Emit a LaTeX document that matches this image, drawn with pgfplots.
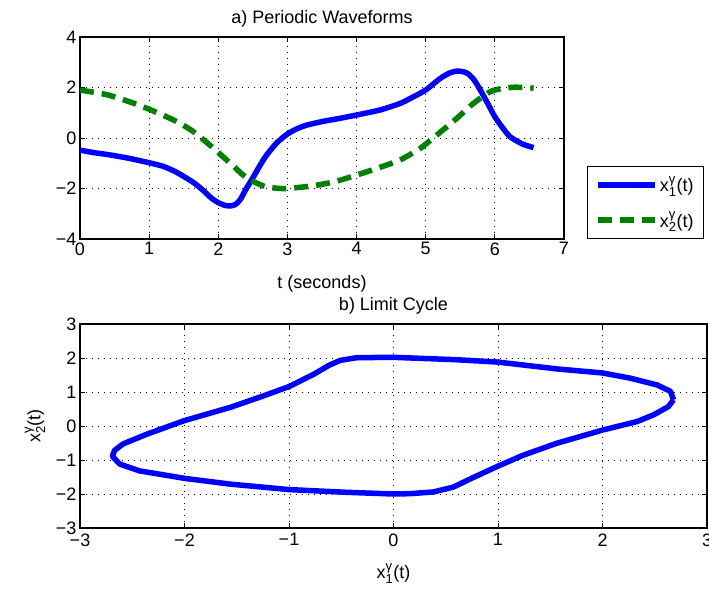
\documentclass[border=0pt]{standalone}
\usepackage{fontspec}
\setmainfont{Liberation Sans}
\usepackage{pgfplots}
\usepackage{pgfplotstable}
\pgfplotsset{compat=1.18}

\definecolor{mblue}{RGB}{0,0,255}
\definecolor{mgreen}{RGB}{0,128,0}
\newcommand{\bigfont}{\fontsize{18}{21}\selectfont}
\newcommand{\smallfont}{\fontsize{13}{15}\selectfont}
% x with gamma above and index below, as in the MATLAB labels
\newcommand{\xg}[1]{$\mbox{x}^{\mbox{\smallfont γ}}_{\mbox{\smallfont #1}}$(t)}

% x1(t), read off panel a)
\pgfplotstableread{
t x
0.00 -0.48
0.20 -0.58
0.41 -0.66
0.70 -0.80
1.00 -0.98
1.20 -1.12
1.37 -1.32
1.50 -1.52
1.66 -1.80
1.80 -2.12
1.90 -2.38
2.00 -2.56
2.10 -2.67
2.18 -2.69
2.25 -2.63
2.32 -2.43
2.40 -2.03
2.51 -1.53
2.60 -1.10
2.70 -0.67
2.85 -0.18
3.00 0.16
3.15 0.38
3.28 0.51
3.50 0.65
3.76 0.78
4.00 0.91
4.34 1.11
4.63 1.37
4.80 1.60
5.00 1.90
5.21 2.36
5.35 2.58
5.45 2.65
5.55 2.62
5.62 2.53
5.70 2.30
5.79 1.90
5.90 1.35
6.00 0.84
6.10 0.45
6.22 0.05
6.40 -0.24
6.56 -0.38
}\xonedata

% x2(t)
\pgfplotstableread{
t x
0.00 1.90
0.20 1.81
0.41 1.70
0.70 1.45
1.00 1.14
1.37 0.69
1.62 0.29
1.86 -0.24
2.15 -0.94
2.36 -1.47
2.46 -1.66
2.68 -1.93
2.85 -1.99
3.00 -2.00
3.35 -1.90
3.67 -1.74
4.00 -1.47
4.34 -1.16
4.63 -0.87
4.92 -0.41
5.18 0.16
5.45 0.78
5.69 1.37
5.93 1.83
6.10 1.96
6.27 2.01
6.45 2.00
6.56 1.97
}\xtwodata

% limit cycle, read off panel b)
\pgfplotstableread{
x y
2.68 0.77
2.65 1.02
2.52 1.21
2.26 1.41
2.00 1.56
1.56 1.68
1.00 1.88
0.60 1.95
0.00 2.02
-0.35 2.01
-0.51 1.93
-0.62 1.78
-0.77 1.51
-1.00 1.16
-1.25 0.88
-1.56 0.55
-2.00 0.16
-2.36 -0.24
-2.59 -0.53
-2.67 -0.72
-2.69 -0.89
-2.62 -1.12
-2.43 -1.32
-2.00 -1.54
-1.56 -1.71
-1.00 -1.87
-0.45 -1.95
0.00 -2.00
0.16 -1.99
0.38 -1.94
0.57 -1.80
0.76 -1.52
1.00 -1.18
1.24 -0.86
1.56 -0.51
2.00 -0.12
2.33 0.13
2.49 0.33
2.63 0.57
2.68 0.77
}\cycledata

\pgfplotsset{
  matlab/.style={
    scale only axis,
    axis line style={line width=1.2pt},
    tick align=inside, xtick pos=both, ytick pos=both,
    major tick length=5pt,
    every tick/.style={line width=1pt, black},
    grid=major,
    grid style={line width=1pt, black, dash pattern=on 1pt off 5pt},
    tick label style={font=\bigfont},
    label style={font=\bigfont},
    title style={font=\bigfont},
  }
}

\begin{document}
\begin{tikzpicture}
\begin{axis}[matlab,
  at={(80pt,351pt)}, anchor=south west,
  width=484pt, height=202pt,
  xmin=0, xmax=7, ymin=-4, ymax=4,
  xtick={0,1,2,3,4,5,6,7},
  xticklabels={0,1,2,3,4,5,6,7},
  ytick={-4,-2,0,2,4},
  yticklabels={−4,−2,0,2,4},
  title={a) Periodic Waveforms},
  xlabel={t (seconds)},
  xlabel style={yshift=-13pt},
  legend style={at={(1.0475,0)}, anchor=south west, draw=black,
    line width=1pt, font=\bigfont, inner xsep=8pt, inner ysep=8pt,
    row sep=14pt, cells={anchor=west}},
  legend image code/.code={\draw[#1] (0pt,0pt) -- (57pt,0pt);},
]
\addplot[mblue, line width=5.5pt, smooth, tension=0.4] table[x=t, y=x] {\xonedata};
\addlegendentry{\xg{1}}
\addplot[mgreen, line width=5.5pt, dash pattern=on 14pt off 8pt, smooth, tension=0.4] table[x=t, y=x] {\xtwodata};
\addlegendentry{\xg{2}}
\end{axis}

\begin{axis}[matlab,
  at={(80pt,62pt)}, anchor=south west,
  width=627pt, height=204pt,
  xmin=-3, xmax=3, ymin=-3, ymax=3,
  xtick={-3,-2,-1,0,1,2,3},
  xticklabels={−3,−2,−1,0,1,2,3},
  xticklabel style={yshift=-2pt},
  ytick={-3,-2,-1,0,1,2,3},
  yticklabels={−3,−2,−1,0,1,2,3},
  title={b) Limit Cycle},
  xlabel={\xg{1}},
  xlabel style={yshift=-10pt},
  ylabel={\xg{2}},
  ylabel style={yshift=4pt},
]
\addplot[mblue, line width=5.5pt, line join=round] table[x=x, y=y] {\cycledata};
\end{axis}
\pgfresetboundingbox
\path (0pt,0pt) rectangle (709pt,590pt);
\end{tikzpicture}
\end{document}
